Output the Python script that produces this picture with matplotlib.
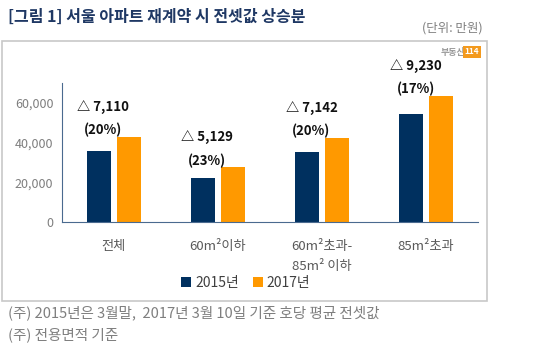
import matplotlib.pyplot as plt
import numpy as np

plt.rcParams['font.family'] = ['Noto Sans CJK KR', 'DejaVu Sans']

categories = ['전체', '60m²이하', '60m²초과-\n85m² 이하', '85m²초과']
val_2015 = [35550, 22300, 35000, 54500]
val_2017 = [42660, 27430, 42140, 63730]
increase = ['7,110', '5,129', '7,142', '9,230']
pct = ['20%', '23%', '20%', '17%']
yticks = [0, 20000, 40000, 60000]

navy = '#00305f'
orange = '#ff9900'
gray = '#7f7f7f'

fig = plt.figure(figsize=(5.33, 3.52), dpi=100)
W, H = 533, 352

# outer box around the chart
fig.patches.append(plt.Rectangle((2 / W, 1 - 301 / H), 485 / W, 260 / H,
                                 transform=fig.transFigure, fill=False,
                                 edgecolor='#c8c8c8', linewidth=1.2))

ax = fig.add_axes([61.7 / W, 1 - 221.7 / H, 416.3 / W, 138.4 / H])
x = np.arange(len(categories))
w = 0.23
off = 0.144
b1 = ax.bar(x - off, val_2015, w, color=navy, label='2015년')
b2 = ax.bar(x + off, val_2017, w, color=orange, label='2017년')

ax.set_xlim(-0.5, 3.5)
ax.set_ylim(0, 70000)
ax.set_yticks(yticks)
ax.set_yticklabels([f'{v:,}' for v in yticks], color=gray, fontsize=9)
ax.tick_params(axis='y', length=0, pad=6)
ax.set_xticks(x)
ax.set_xticklabels(categories, color='#595959', fontsize=9.5, linespacing=1.75,
                   va='top')
ax.tick_params(axis='x', length=0, pad=13)
for s in ['top', 'right']:
    ax.spines[s].set_visible(False)
ax.spines['left'].set_color('#4a6a8f')
ax.spines['bottom'].set_color('#4a6a8f')

for i in range(len(categories)):
    top = val_2017[i]
    ax.annotate(f'({pct[i]})', (x[i] - 0.1, top), xytext=(0, 5),
                textcoords='offset points', ha='center', va='center',
                fontsize=9.5, fontweight='bold', color='#111111')
    ax.annotate(f'△ {increase[i]}', (x[i] - 0.1, top), xytext=(0, 21),
                textcoords='offset points', ha='center', va='center',
                fontsize=9.5, fontweight='bold', color='#111111',
                annotation_clip=False)

fig.legend(handles=[b1, b2], loc='center', bbox_to_anchor=(246 / W, 1 - 283 / H),
           ncol=2, frameon=False, fontsize=10, handlelength=0.7, handleheight=0.7,
           handletextpad=0.3, columnspacing=1.0, labelcolor='#404040')

fig.text(8 / W, 1 - 17 / H, '[그림 1] 서울 아파트 재계약 시 전셋값 상승분',
         ha='left', va='center', fontsize=11.5, fontweight='bold', color='#1f3864')
fig.text(483 / W, 1 - 28 / H, '(단위: 만원)', ha='right', va='center',
         fontsize=9, color=gray)
fig.text(465 / W, 1 - 52 / H, '부동산', ha='right', va='center',
         fontsize=6.5, fontweight='bold', color='#9a9a9a')
fig.text(472 / W, 1 - 52 / H, '114', ha='center', va='center', fontsize=6,
         fontweight='bold', color='white',
         bbox=dict(boxstyle='square,pad=0.15', facecolor='#f39a1e', edgecolor='none'))

fig.text(8 / W, 1 - 313 / H, '(주) 2015년은 3월말,  2017년 3월 10일 기준 호당 평균 전셋값',
         ha='left', va='center', fontsize=10.5, color=gray)
fig.text(8 / W, 1 - 335 / H, '(주) 전용면적 기준', ha='left', va='center',
         fontsize=10.5, color=gray)

fig.savefig('out.png', dpi=100)
